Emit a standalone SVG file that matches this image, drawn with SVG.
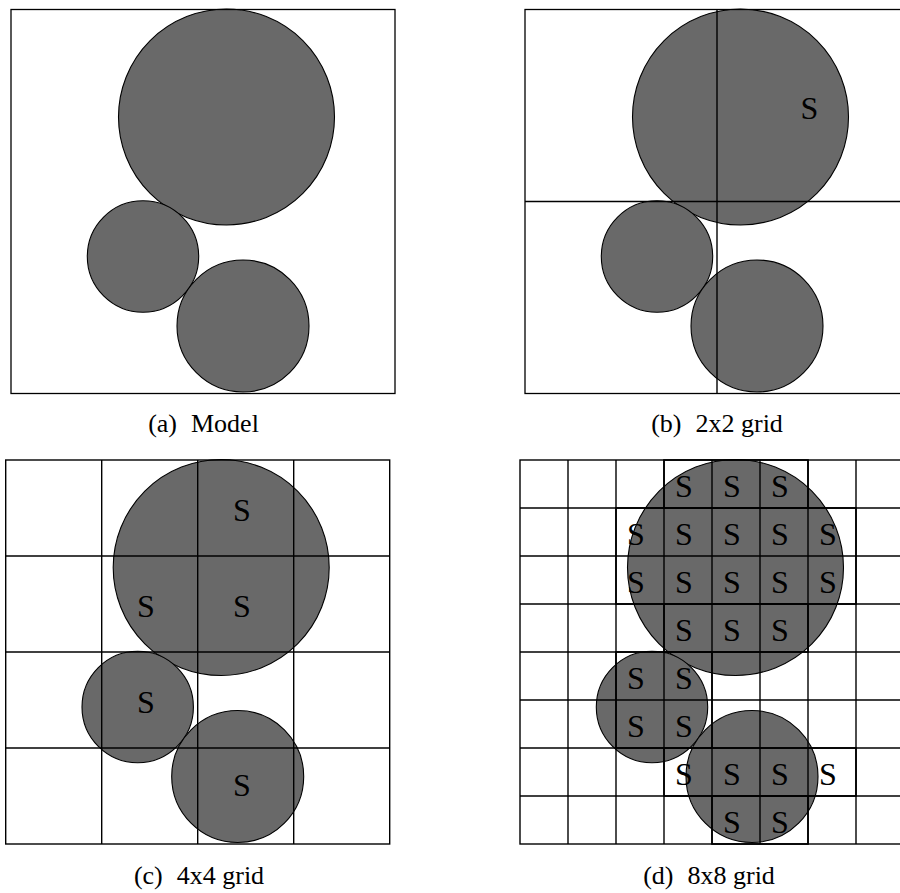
<svg xmlns="http://www.w3.org/2000/svg" xmlns:xlink="http://www.w3.org/1999/xlink" width="900" height="893" viewBox="0 0 900 893">
<style>
.frame{fill:none;stroke:#000;stroke-width:1.3}
.grid{fill:none;stroke:#000;stroke-width:1.4}
.bold{fill:none;stroke:#000;stroke-width:1.7}
.blob{fill:#696969;stroke:#000;stroke-width:1.1}
.s{font-family:"Liberation Serif","DejaVu Serif",serif;font-size:32px;fill:#000;text-anchor:middle}
.cap{font-family:"Liberation Serif","DejaVu Serif",serif;font-size:26px;fill:#000;text-anchor:middle}
</style>
<defs>
<g id="model">
<circle class="blob" cx="226.5" cy="117" r="108"/>
<circle class="blob" cx="143" cy="256.5" r="55.7"/>
<circle class="blob" cx="243" cy="326" r="66"/>
</g>
</defs>

<g id="panel-a">
<use xlink:href="#model"/>
<rect class="frame" x="11" y="9.5" width="384" height="384"/>
<text class="cap" x="203.5" y="432">(a)<tspan dx="14">Model</tspan></text>
</g>

<g id="panel-b">
<use xlink:href="#model" transform="translate(514,0)"/>
<rect class="frame" x="525" y="9.5" width="384" height="384"/>
<g class="grid">
<line x1="717" y1="9.5" x2="717" y2="393.5"/>
<line x1="525" y1="201.5" x2="909" y2="201.5"/>
</g>
<text class="s" x="809.5" y="118.5">S</text>
<text class="cap" x="717" y="432">(b)<tspan dx="14">2x2 grid</tspan></text>
</g>

<g id="panel-c">
<use xlink:href="#model" transform="translate(-5.3,450.5)"/>
<g class="grid">
<rect x="5.7" y="460" width="384" height="384"/>
<line x1="101.7" y1="460" x2="101.7" y2="844"/>
<line x1="197.7" y1="460" x2="197.7" y2="844"/>
<line x1="293.7" y1="460" x2="293.7" y2="844"/>
<line x1="5.7" y1="556" x2="389.7" y2="556"/>
<line x1="5.7" y1="652" x2="389.7" y2="652"/>
<line x1="5.7" y1="748" x2="389.7" y2="748"/>
</g>
<text class="s" x="242" y="521">S</text>
<text class="s" x="146" y="617">S</text>
<text class="s" x="242" y="617">S</text>
<text class="s" x="146" y="713">S</text>
<text class="s" x="242" y="796">S</text>
<text class="cap" x="199" y="884">(c)<tspan dx="14">4x4 grid</tspan></text>
</g>

<g id="panel-d">
<use xlink:href="#model" transform="translate(509,450.5)"/>
<g class="grid">
<rect x="520" y="460" width="384" height="384"/>
<line x1="568" y1="460" x2="568" y2="844"/>
<line x1="616" y1="460" x2="616" y2="844"/>
<line x1="664" y1="460" x2="664" y2="844"/>
<line x1="712" y1="460" x2="712" y2="844"/>
<line x1="760" y1="460" x2="760" y2="844"/>
<line x1="808" y1="460" x2="808" y2="844"/>
<line x1="856" y1="460" x2="856" y2="844"/>
<line x1="520" y1="508" x2="904" y2="508"/>
<line x1="520" y1="556" x2="904" y2="556"/>
<line x1="520" y1="604" x2="904" y2="604"/>
<line x1="520" y1="652" x2="904" y2="652"/>
<line x1="520" y1="700" x2="904" y2="700"/>
<line x1="520" y1="748" x2="904" y2="748"/>
<line x1="520" y1="796" x2="904" y2="796"/>
</g>
<g class="bold">
<rect x="664" y="460" width="144" height="48"/>
<rect x="616" y="508" width="240" height="96"/>
<rect x="664" y="604" width="144" height="48"/>
<rect x="616" y="652" width="96" height="96"/>
<rect x="664" y="748" width="192" height="48"/>
<rect x="712" y="796" width="96" height="48"/>
</g>
<g id="d-labels">
<text class="s" x="684" y="497">S</text>
<text class="s" x="732" y="497">S</text>
<text class="s" x="780" y="497">S</text>
<text class="s" x="636" y="545">S</text>
<text class="s" x="684" y="545">S</text>
<text class="s" x="732" y="545">S</text>
<text class="s" x="780" y="545">S</text>
<text class="s" x="828" y="545">S</text>
<text class="s" x="636" y="593">S</text>
<text class="s" x="684" y="593">S</text>
<text class="s" x="732" y="593">S</text>
<text class="s" x="780" y="593">S</text>
<text class="s" x="828" y="593">S</text>
<text class="s" x="684" y="641">S</text>
<text class="s" x="732" y="641">S</text>
<text class="s" x="780" y="641">S</text>
<text class="s" x="636" y="689">S</text>
<text class="s" x="684" y="689">S</text>
<text class="s" x="636" y="737">S</text>
<text class="s" x="684" y="737">S</text>
<text class="s" x="684" y="785">S</text>
<text class="s" x="732" y="785">S</text>
<text class="s" x="780" y="785">S</text>
<text class="s" x="828" y="785">S</text>
<text class="s" x="732" y="833">S</text>
<text class="s" x="780" y="833">S</text>
</g>
<text class="cap" x="709" y="884">(d)<tspan dx="14">8x8 grid</tspan></text>
</g>
</svg>
